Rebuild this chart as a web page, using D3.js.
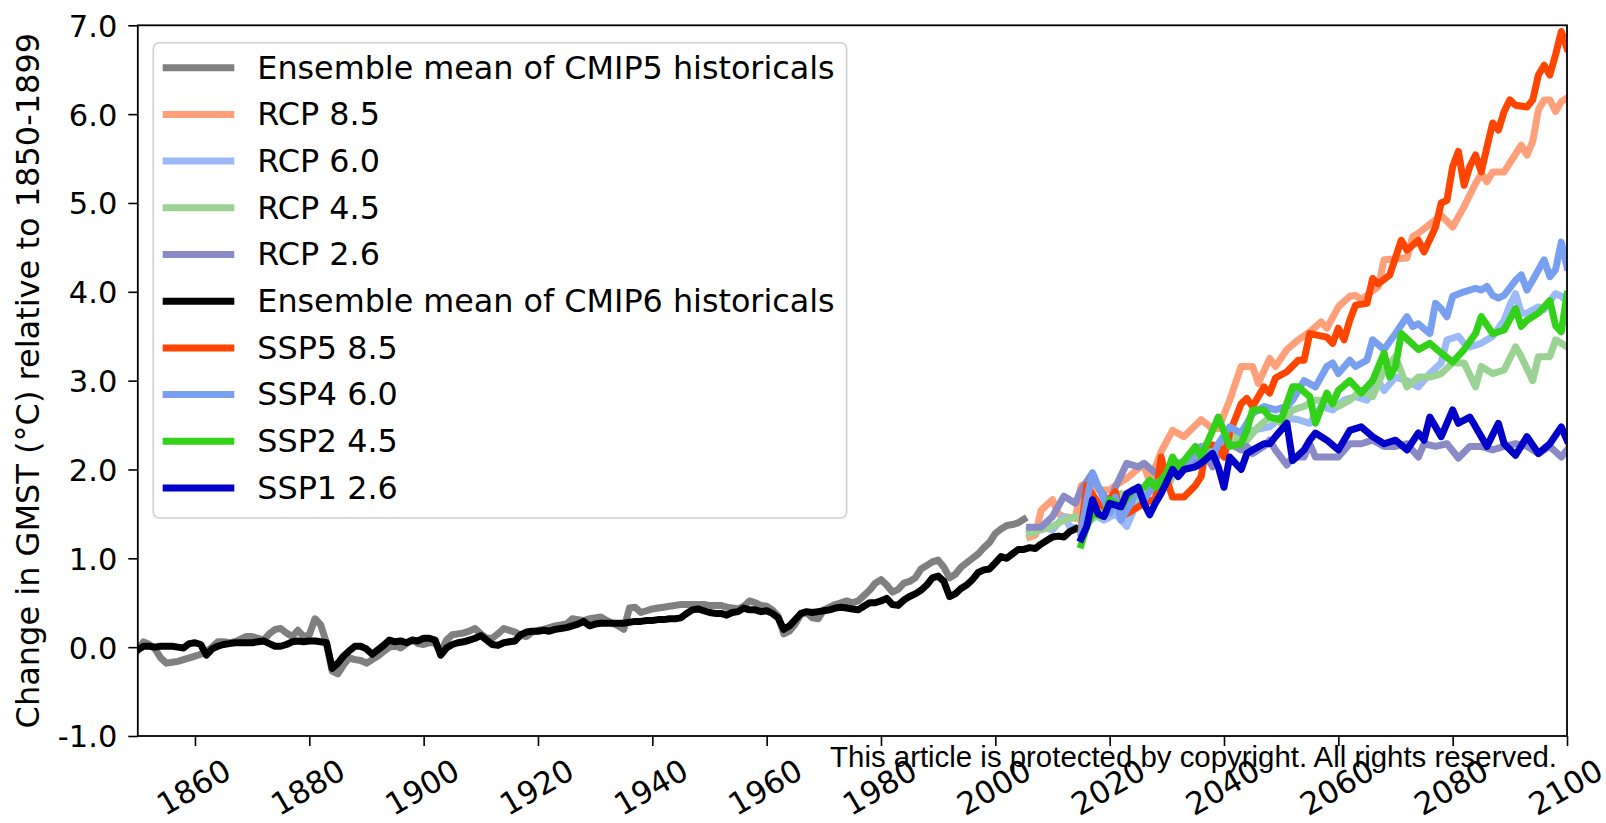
<!DOCTYPE html>
<html>
<head>
<meta charset="utf-8">
<script src="https://cdn.jsdelivr.net/npm/d3@7/dist/d3.min.js"></script>
<style>
  html, body { margin: 0; padding: 0; background: #ffffff; }
  svg { display: block; }
</style>
</head>
<body>
<svg id="chart" width="1606" height="823"></svg>
<script>
// ---------------------------------------------------------------------------
// Global mean surface temperature change relative to 1850-1899 (°C)
// Each series is a list of [year, anomaly] pairs.
// ---------------------------------------------------------------------------

const cmip5Hist = [
  [1850,-0.03],[1851,0.06],[1852,0.03],[1853,-0.02],[1854,-0.12],[1855,-0.18],[1856,-0.17],[1857,-0.16],
  [1858,-0.14],[1859,-0.12],[1860,-0.1],[1861,-0.08],[1862,-0.05],[1863,0.0],[1864,0.06],[1865,0.06],
  [1866,0.05],[1867,0.06],[1868,0.09],[1869,0.12],[1870,0.12],[1871,0.1],[1872,0.08],[1873,0.15],
  [1874,0.2],[1875,0.21],[1876,0.16],[1877,0.12],[1878,0.19],[1879,0.12],[1880,0.14],[1881,0.32],
  [1882,0.25],[1883,0.05],[1884,-0.27],[1885,-0.3],[1886,-0.2],[1887,-0.12],[1888,-0.14],[1889,-0.15],
  [1890,-0.18],[1891,-0.14],[1892,-0.1],[1893,-0.05],[1894,0.0],[1895,0.02],[1896,-0.01],[1897,0.04],
  [1898,0.08],[1899,0.04],[1900,0.03],[1901,0.05],[1902,0.05],[1903,-0.06],[1904,0.08],[1905,0.14],
  [1906,0.15],[1907,0.16],[1908,0.18],[1909,0.21],[1910,0.15],[1911,0.1],[1912,0.1],[1913,0.15],
  [1914,0.21],[1915,0.19],[1916,0.17],[1917,0.13],[1918,0.12],[1919,0.17],[1920,0.19],[1921,0.2],
  [1922,0.22],[1923,0.24],[1924,0.25],[1925,0.26],[1926,0.32],[1927,0.31],[1928,0.3],[1929,0.32],
  [1930,0.33],[1931,0.34],[1932,0.3],[1933,0.27],[1934,0.24],[1935,0.2],[1936,0.44],[1937,0.45],
  [1938,0.39],[1939,0.41],[1940,0.43],[1941,0.44],[1942,0.45],[1943,0.46],[1944,0.47],[1945,0.48],
  [1946,0.48],[1947,0.48],[1948,0.48],[1949,0.48],[1950,0.47],[1951,0.47],[1952,0.47],[1953,0.45],
  [1954,0.44],[1955,0.43],[1956,0.46],[1957,0.52],[1958,0.5],[1959,0.47],[1960,0.46],[1961,0.42],
  [1962,0.35],[1963,0.15],[1964,0.18],[1965,0.26],[1966,0.37],[1967,0.39],[1968,0.33],[1969,0.32],
  [1970,0.42],[1971,0.45],[1972,0.48],[1973,0.5],[1974,0.52],[1975,0.5],[1976,0.52],[1977,0.58],
  [1978,0.64],[1979,0.72],[1980,0.76],[1981,0.7],[1982,0.62],[1983,0.65],[1984,0.72],[1985,0.74],
  [1986,0.78],[1987,0.88],[1988,0.92],[1989,0.96],[1990,0.98],[1991,0.9],[1992,0.78],[1993,0.82],
  [1994,0.9],[1995,0.95],[1996,1.0],[1997,1.05],[1998,1.12],[1999,1.18],[2000,1.28],[2001,1.33],
  [2002,1.37],[2003,1.38],[2004,1.4],[2005,1.44]
];

const rcp85 = [
  [2006,1.24],[2007,1.26],[2008,1.54],[2010,1.66],[2011,1.5],[2012,1.47],[2014,1.45],[2015,1.82],
  [2017,1.86],[2018,1.77],[2020,1.77],[2021,1.82],[2023,1.9],[2025,2.01],[2026,2.05],[2027,1.86],
  [2029,2.2],[2031,2.44],[2033,2.37],[2036,2.56],[2038,2.46],[2039,2.46],[2041,2.78],[2043,3.16],
  [2045,3.16],[2046,2.97],[2048,3.25],[2049,3.16],[2051,3.35],[2053,3.46],[2055,3.55],[2057,3.66],
  [2058,3.59],[2060,3.83],[2062,3.95],[2063,3.96],[2064,3.91],[2067,4.06],[2068,4.36],[2072,4.38],
  [2073,4.62],[2074,4.66],[2077,4.81],[2078,4.86],[2080,4.73],[2082,4.96],[2084,5.22],[2085,5.33],
  [2086,5.24],[2087,5.35],[2089,5.35],[2092,5.65],[2093,5.54],[2094,5.69],[2095,6.05],[2096,6.16],
  [2097,6.16],[2098,6.03],[2099,6.14],[2100,6.18]
];

const rcp60 = [
  [2006,1.32],[2008,1.36],[2010,1.32],[2012,1.47],[2013,1.36],[2015,1.32],[2017,1.5],[2019,1.43],
  [2021,1.5],[2023,1.36],[2025,1.66],[2028,1.8],[2030,1.88],[2032,1.99],[2034,2.1],[2036,2.14],
  [2039,2.26],[2041,2.37],[2043,2.33],[2045,2.44],[2048,2.48],[2050,2.59],[2053,2.56],[2055,2.52],
  [2057,2.71],[2059,2.67],[2061,2.78],[2063,2.82],[2065,2.78],[2067,3.0],[2068,2.89],[2070,3.04],
  [2072,3.0],[2074,2.93],[2076,3.08],[2078,3.2],[2079,3.46],[2081,3.5],[2082,3.42],[2083,3.38],
  [2085,3.42],[2087,3.5],[2089,3.68],[2090,3.85],[2091,3.98],[2092,3.76],[2093,3.76],[2095,3.83],
  [2096,3.8],[2098,3.98],[2099,3.95],[2100,3.89]
];

const rcp45 = [
  [2006,1.28],[2008,1.32],[2010,1.36],[2012,1.43],[2014,1.47],[2016,1.39],[2018,1.5],[2020,1.58],
  [2022,1.73],[2024,1.66],[2026,1.73],[2028,1.88],[2030,1.8],[2032,2.03],[2034,2.14],[2036,2.18],
  [2038,2.26],[2040,2.22],[2042,2.37],[2044,2.33],[2046,2.48],[2048,2.59],[2050,2.52],[2052,2.67],
  [2054,2.71],[2056,2.78],[2058,2.78],[2060,2.71],[2062,2.78],[2064,2.89],[2066,2.82],[2068,3.12],
  [2070,3.27],[2072,2.93],[2074,3.04],[2076,3.04],[2078,3.08],[2080,3.2],[2082,3.2],[2084,2.93],
  [2085,3.16],[2087,3.08],[2089,3.12],[2091,3.38],[2092,3.27],[2094,3.0],[2095,3.27],[2097,3.27],
  [2098,3.46],[2100,3.38]
];

const rcp26 = [
  [2006,1.35],[2008,1.35],[2010,1.47],[2012,1.7],[2014,1.62],[2015,1.77],[2017,1.96],[2018,1.8],
  [2020,1.62],[2021,1.8],[2023,2.07],[2025,2.03],[2026,2.07],[2028,1.96],[2029,2.0],[2031,2.03],
  [2032,2.07],[2033,2.0],[2035,2.07],[2037,2.14],[2038,2.03],[2039,2.18],[2041,2.29],[2043,2.22],
  [2044,2.26],[2045,2.18],[2047,2.26],[2048,2.33],[2049,2.22],[2051,2.05],[2052,2.14],[2054,2.14],
  [2055,2.29],[2056,2.14],[2060,2.14],[2062,2.29],[2064,2.29],[2066,2.33],[2068,2.26],[2070,2.26],
  [2072,2.29],[2074,2.14],[2075,2.29],[2077,2.26],[2079,2.29],[2081,2.13],[2083,2.26],[2085,2.26],
  [2087,2.22],[2089,2.26],[2091,2.29],[2093,2.26],[2095,2.18],[2097,2.26],[2099,2.14],[2100,2.22]
];

const cmip6Hist = [
  [1850,-0.03],[1851,0.01],[1852,0.01],[1853,0.0],[1854,0.01],[1855,0.01],[1856,0.01],[1857,0.0],
  [1858,-0.01],[1859,0.04],[1860,0.05],[1861,0.03],[1862,-0.09],[1863,-0.02],[1864,0.01],[1865,0.03],
  [1866,0.04],[1867,0.05],[1868,0.05],[1869,0.05],[1870,0.05],[1871,0.06],[1872,0.07],[1873,0.04],
  [1874,0.01],[1875,0.01],[1876,0.03],[1877,0.06],[1878,0.07],[1879,0.06],[1880,0.07],[1881,0.07],
  [1882,0.06],[1883,0.05],[1884,-0.24],[1885,-0.18],[1886,-0.1],[1887,-0.04],[1888,0.01],[1889,0.01],
  [1890,-0.02],[1891,-0.08],[1892,-0.03],[1893,0.02],[1894,0.08],[1895,0.06],[1896,0.07],[1897,0.05],
  [1898,0.08],[1899,0.07],[1900,0.1],[1901,0.1],[1902,0.08],[1903,-0.09],[1904,-0.01],[1905,0.03],
  [1906,0.05],[1907,0.06],[1908,0.08],[1909,0.1],[1910,0.13],[1911,0.08],[1912,0.03],[1913,0.02],
  [1914,0.05],[1915,0.06],[1916,0.07],[1917,0.14],[1918,0.17],[1919,0.18],[1920,0.18],[1921,0.19],
  [1922,0.18],[1923,0.2],[1924,0.21],[1925,0.22],[1926,0.24],[1927,0.26],[1928,0.29],[1929,0.24],
  [1930,0.26],[1931,0.27],[1932,0.27],[1933,0.27],[1934,0.27],[1935,0.27],[1936,0.28],[1937,0.29],
  [1938,0.29],[1939,0.3],[1940,0.3],[1941,0.31],[1942,0.31],[1943,0.32],[1944,0.32],[1945,0.33],
  [1946,0.38],[1947,0.42],[1948,0.43],[1949,0.41],[1950,0.39],[1951,0.38],[1952,0.38],[1953,0.36],
  [1954,0.39],[1955,0.4],[1956,0.44],[1957,0.42],[1958,0.42],[1959,0.4],[1960,0.41],[1961,0.38],
  [1962,0.33],[1963,0.2],[1964,0.24],[1965,0.31],[1966,0.38],[1967,0.4],[1968,0.39],[1969,0.4],
  [1970,0.41],[1971,0.42],[1972,0.44],[1973,0.45],[1974,0.44],[1975,0.43],[1976,0.42],[1977,0.46],
  [1978,0.5],[1979,0.5],[1980,0.52],[1981,0.55],[1982,0.48],[1983,0.47],[1984,0.53],[1985,0.57],
  [1986,0.6],[1987,0.64],[1988,0.7],[1989,0.78],[1990,0.8],[1991,0.74],[1992,0.57],[1993,0.6],
  [1994,0.66],[1995,0.7],[1996,0.76],[1997,0.84],[1998,0.87],[1999,0.88],[2000,0.95],[2001,1.02],
  [2002,1.0],[2003,1.05],[2004,1.1],[2005,1.1],[2006,1.12],[2007,1.11],[2008,1.16],[2009,1.2],
  [2010,1.24],[2011,1.25],[2012,1.24],[2013,1.3],[2014,1.33]
];

const ssp585 = [
  [2015,1.32],[2016,1.82],[2018,1.62],[2019,1.58],[2021,1.75],[2022,1.47],[2024,1.54],[2026,1.62],
  [2028,1.67],[2029,2.14],[2030,1.88],[2031,1.69],[2033,1.69],[2035,1.82],[2036,1.92],[2037,2.29],
  [2039,2.26],[2040,2.14],[2041,2.41],[2043,2.74],[2044,2.8],[2045,2.71],[2047,2.93],[2048,2.86],
  [2049,3.03],[2051,3.1],[2053,3.23],[2054,3.23],[2055,3.53],[2058,3.49],[2059,3.42],[2060,3.59],
  [2061,3.46],[2062,3.68],[2063,3.85],[2065,3.87],[2066,4.15],[2067,4.09],[2069,4.19],[2071,4.58],
  [2072,4.47],[2074,4.58],[2075,4.45],[2077,4.73],[2078,5.0],[2079,5.03],[2080,5.41],[2081,5.58],
  [2082,5.2],[2083,5.41],[2084,5.54],[2085,5.35],[2086,5.63],[2087,5.9],[2088,5.82],[2089,6.03],
  [2090,6.16],[2091,6.1],[2093,6.08],[2094,6.16],[2095,6.44],[2096,6.55],[2097,6.44],[2098,6.67],
  [2099,6.93],[2100,6.74]
];

const ssp460 = [
  [2015,1.28],[2016,1.66],[2017,1.96],[2019,1.66],[2020,1.51],[2021,1.69],[2022,1.43],[2024,1.66],
  [2025,1.8],[2026,1.66],[2028,1.84],[2030,1.92],[2032,2.07],[2034,2.1],[2036,2.26],[2038,2.14],
  [2039,2.29],[2041,2.48],[2043,2.41],[2045,2.63],[2047,2.71],[2049,2.67],[2051,2.71],[2052,2.78],
  [2054,3.0],[2056,2.93],[2058,3.16],[2059,3.2],[2060,3.08],[2062,3.23],[2063,3.16],[2065,3.23],
  [2066,3.46],[2068,3.35],[2070,3.53],[2072,3.72],[2073,3.61],[2074,3.64],[2076,3.53],[2077,3.87],
  [2078,3.81],[2079,3.72],[2080,3.95],[2082,4.0],[2084,4.04],[2085,4.02],[2086,4.06],[2087,3.96],
  [2088,3.93],[2089,3.96],[2091,4.13],[2092,4.19],[2093,4.02],[2094,4.13],[2096,4.36],[2097,4.17],
  [2098,4.25],[2099,4.56],[2100,4.28]
];

const ssp245 = [
  [2015,1.15],[2016,1.36],[2017,1.5],[2019,1.47],[2020,1.66],[2022,1.58],[2024,1.77],[2026,1.8],
  [2027,1.88],[2028,1.8],[2030,1.96],[2031,2.14],[2032,2.03],[2033,2.1],[2035,2.26],[2036,2.14],
  [2039,2.59],[2041,2.26],[2043,2.29],[2044,2.44],[2045,2.67],[2047,2.67],[2048,2.59],[2050,2.56],
  [2052,2.93],[2053,2.93],[2055,2.82],[2056,2.52],[2058,2.86],[2059,2.74],[2060,2.89],[2062,3.0],
  [2064,2.86],[2066,3.0],[2068,3.31],[2069,3.04],[2070,3.16],[2071,3.53],[2074,3.35],[2076,3.42],
  [2078,3.31],[2080,3.21],[2082,3.35],[2084,3.53],[2085,3.72],[2087,3.53],[2089,3.57],[2091,3.81],
  [2092,3.61],[2093,3.68],[2095,3.76],[2097,3.9],[2098,3.62],[2099,3.55],[2100,3.97]
];

const ssp126 = [
  [2015,1.22],[2016,1.36],[2017,1.66],[2018,1.5],[2019,1.47],[2020,1.62],[2022,1.58],[2023,1.73],
  [2025,1.8],[2026,1.62],[2027,1.49],[2028,1.62],[2029,1.73],[2031,2.0],[2032,1.92],[2033,2.0],
  [2035,2.03],[2036,2.07],[2038,2.18],[2039,2.03],[2040,1.8],[2041,2.14],[2043,2.0],[2044,2.18],
  [2045,2.22],[2047,2.29],[2048,2.29],[2049,2.37],[2051,2.52],[2052,2.1],[2054,2.22],[2055,2.33],
  [2056,2.41],[2058,2.33],[2060,2.22],[2062,2.44],[2064,2.48],[2066,2.37],[2068,2.29],[2070,2.33],
  [2072,2.22],[2074,2.41],[2075,2.33],[2076,2.59],[2078,2.37],[2080,2.67],[2081,2.52],[2083,2.59],
  [2084,2.48],[2086,2.26],[2088,2.52],[2089,2.29],[2091,2.16],[2093,2.37],[2095,2.18],[2097,2.29],
  [2099,2.48],[2100,2.33]
];

const seriesNames = [
  "Ensemble mean of CMIP5 historicals", "RCP 8.5", "RCP 6.0", "RCP 4.5", "RCP 2.6",
  "Ensemble mean of CMIP6 historicals", "SSP5 8.5", "SSP4 6.0", "SSP2 4.5", "SSP1 2.6"
];
const seriesData = [cmip5Hist, rcp85, rcp60, rcp45, rcp26, cmip6Hist, ssp585, ssp460, ssp245, ssp126];
const seriesColors = [
  "#808080", "#ffa07a", "#9cbaf8", "#9ad393", "#8a8ac6",
  "#000000", "#ff4500", "#789ff0", "#33d11a", "#0000c8"
];

const xMajorTicks = [1860, 1880, 1900, 1920, 1940, 1960, 1980, 2000, 2020, 2040, 2060, 2080, 2100];
const yMajorTicks = [-1, 0, 1, 2, 3, 4, 5, 6, 7];
const yLabel = "Change in GMST (°C) relative to 1850-1899";
const notice = "This article is protected by copyright. All rights reserved.";

// ---------------------------------------------------------------------------
const svg = d3.select("#chart");
const plot = { left: 137.8, right: 1567, top: 25.3, bottom: 736 };
const FONT = "DejaVu Sans, Verdana, sans-serif";
const tickFont = 30.5;

const x = d3.scaleLinear().domain([1850, 2100]).range([plot.left, plot.right]);
const y = d3.scaleLinear().domain([-1, 7]).range([plot.bottom, plot.top]);

svg.append("defs").append("clipPath").attr("id", "plotClip")
  .append("rect")
  .attr("x", plot.left).attr("y", plot.top)
  .attr("width", plot.right - plot.left).attr("height", plot.bottom - plot.top);

// Series lines
const line = d3.line().x(d => x(d[0])).y(d => y(d[1]));
const linesG = svg.append("g").attr("clip-path", "url(#plotClip)");
seriesData.forEach((data, i) => {
  linesG.append("path")
    .datum(data)
    .attr("d", line)
    .attr("fill", "none")
    .attr("stroke", seriesColors[i])
    .attr("stroke-width", 7)
    .attr("stroke-linejoin", "round")
    .attr("stroke-linecap", "square");
});

// Axes
const minorX = d3.range(1850, 2101, 5).filter(v => v % 20 !== 0);
const minorY = d3.range(-0.5, 7, 1);

const xAxisG = svg.append("g").attr("transform", `translate(0,${plot.bottom})`);
xAxisG.call(d3.axisBottom(x).tickValues(minorX).tickSize(5).tickFormat(""));
xAxisG.call(d3.axisBottom(x).tickValues(xMajorTicks).tickSize(10).tickFormat(d => String(d)));
xAxisG.selectAll(".domain").remove();
xAxisG.selectAll("line").attr("stroke", "#000").attr("stroke-width", 1.6);
xAxisG.selectAll("text")
  .attr("font-family", FONT).attr("font-size", 31).attr("fill", "#000")
  .attr("text-anchor", "middle")
  .attr("y", 0).attr("dy", "0.36em")
  .attr("transform", "translate(-2,51) rotate(-30)");

const yAxisG = svg.append("g").attr("transform", `translate(${plot.left},0)`);
yAxisG.call(d3.axisLeft(y).tickValues(minorY).tickSize(5).tickFormat(""));
yAxisG.call(d3.axisLeft(y).tickValues(yMajorTicks).tickSize(9.5).tickPadding(11)
  .tickFormat(d => d.toFixed(1)));
yAxisG.selectAll(".domain").remove();
yAxisG.selectAll("line").attr("stroke", "#000").attr("stroke-width", 1.6);
yAxisG.selectAll("text")
  .attr("font-family", FONT).attr("font-size", tickFont).attr("fill", "#000")
  .attr("dy", "0.36em");

// Frame
svg.append("rect")
  .attr("x", plot.left).attr("y", plot.top)
  .attr("width", plot.right - plot.left).attr("height", plot.bottom - plot.top)
  .attr("fill", "none").attr("stroke", "#000").attr("stroke-width", 1.8);

// Y axis title
svg.append("text")
  .attr("transform", `translate(38.5,${(plot.top + plot.bottom) / 2}) rotate(-90)`)
  .attr("text-anchor", "middle")
  .attr("font-family", FONT).attr("font-size", 32).attr("fill", "#000")
  .text(yLabel);

// Legend
const legend = { left: 153.3, top: 42.7, bottom: 518, firstRow: 67.7, rowStep: 46.7,
                 handleX0: 162.7, handleX1: 234.3, textX: 257.3 };
const legendG = svg.append("g");
const legendBox = legendG.append("rect")
  .attr("x", legend.left).attr("y", legend.top)
  .attr("height", legend.bottom - legend.top)
  .attr("rx", 6).attr("ry", 6)
  .attr("fill", "#ffffff").attr("fill-opacity", 0.8)
  .attr("stroke", "#d0d0d0").attr("stroke-width", 1.6);

let maxLen = 0;
seriesNames.forEach((name, i) => {
  const cy = legend.firstRow + i * legend.rowStep;
  legendG.append("line")
    .attr("x1", legend.handleX0).attr("x2", legend.handleX1)
    .attr("y1", cy).attr("y2", cy)
    .attr("stroke", seriesColors[i]).attr("stroke-width", 7);
  const t = legendG.append("text")
    .attr("x", legend.textX).attr("y", cy + 10.8)
    .attr("font-family", FONT).attr("font-size", 31.8).attr("fill", "#000")
    .text(name);
  maxLen = Math.max(maxLen, t.node().getComputedTextLength());
});
legendBox.attr("width", legend.textX + maxLen + 12 - legend.left);

// Notice line under the plot
svg.append("text")
  .attr("x", 1557).attr("y", 766.7)
  .attr("text-anchor", "end")
  .attr("font-family", "Liberation Sans, Arial, Helvetica, sans-serif")
  .attr("font-size", 29.4).attr("fill", "#000")
  .text(notice);
</script>
</body>
</html>
